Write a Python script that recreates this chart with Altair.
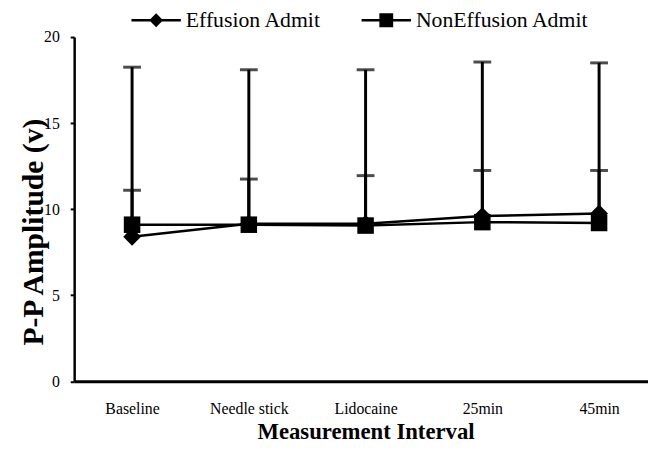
import altair as alt
import pandas as pd

categories = ["Baseline", "Needle stick", "Lidocaine", "25min", "45min"]
series_names = ["Effusion Admit", "NonEffusion Admit"]
eff_mean = [8.4, 9.15, 9.15, 9.6, 9.75]
eff_sd = [2.7, 2.6, 2.8, 2.65, 2.5]
non_mean = [9.1, 9.1, 9.05, 9.25, 9.2]
non_sd = [9.15, 9.0, 9.05, 9.3, 9.3]
y_ticks = [0, 5, 10, 15, 20]

rows = []
for name, means, sds in [(series_names[0], eff_mean, eff_sd), (series_names[1], non_mean, non_sd)]:
    for i, (c, m, s) in enumerate(zip(categories, means, sds)):
        rows.append({"idx": i, "cat": c, "series": name, "mean": m, "sd": s})
df = pd.DataFrame(rows)

FONT = "Liberation Serif"
label_expr = "[" + ",".join("'" + c + "'" for c in categories) + "][datum.value]"

x_enc = alt.X(
    "idx:Q",
    scale=alt.Scale(domain=[-0.496, 4.419], nice=False, zero=False),
    axis=alt.Axis(
        values=list(range(len(categories))),
        labelExpr=label_expr,
        title="Measurement Interval",
        ticks=False,
        grid=False,
        domainColor="black",
        domainWidth=3,
        labelFont=FONT,
        labelFontSize=16,
        labelFontWeight="normal",
        labelColor="black",
        labelPadding=20,
        titleFont=FONT,
        titleFontSize=23,
        titleFontWeight="bold",
        titleColor="black",
        titleBaseline="alphabetic",
        titleY=57.5,
        titleX=295,
    ),
)
y_enc = alt.Y(
    "mean:Q",
    scale=alt.Scale(domain=[0, 20], nice=False),
    axis=alt.Axis(
        values=y_ticks,
        title="P-P Amplitude (v)",
        grid=False,
        domainColor="black",
        domainWidth=2.5,
        tickColor="black",
        tickWidth=2,
        tickSize=4,
        labelFont=FONT,
        labelFontSize=16,
        labelFontWeight="normal",
        labelColor="black",
        labelPadding=11,
        titleFont=FONT,
        titleFontSize=30,
        titleFontWeight="bold",
        titleColor="black",
        titleBaseline="alphabetic",
        titleX=-32,
        titleY=197,
    ),
)

base = alt.Chart(df)

lines = base.mark_line(color="black", strokeWidth=2.5).encode(
    x=x_enc, y=y_enc, detail="series:N"
)

bars = base.transform_calculate(upper="datum.mean + datum.sd").mark_rule(
    color="black", strokeWidth=3
).encode(x="idx:Q", y="mean:Q", y2="upper:Q")

caps = base.transform_calculate(upper="datum.mean + datum.sd").mark_tick(
    color="black", size=18, thickness=3, orient="horizontal"
).encode(x="idx:Q", y="upper:Q")

diamonds = base.transform_filter(alt.datum.series == series_names[0]).mark_point(
    shape="diamond", filled=True, color="black", size=324, opacity=1
).encode(x="idx:Q", y="mean:Q")

squares = base.transform_filter(alt.datum.series == series_names[1]).mark_point(
    shape="square", filled=True, color="black", size=280, opacity=1
).encode(x="idx:Q", y="mean:Q")

# legend symbols: a thin filled bar (the line) plus the marker, all filled
path_d = "M-1,-0.05H1V0.05H-1ZM0,-0.28L0.28,0L0,0.28L-0.28,0Z"
path_s = "M-1,-0.05H1V0.05H-1ZM-0.28,-0.28H0.28V0.28H-0.28Z"

legend_layer = base.mark_point(filled=True, color="black", opacity=0).encode(
    x="idx:Q",
    y="mean:Q",
    shape=alt.Shape(
        "series:N",
        scale=alt.Scale(domain=series_names, range=[path_d, path_s]),
        legend=alt.Legend(
            title=None,
            orient="none",
            direction="horizontal",
            legendX=58,
            legendY=-42,
            padding=0,
            symbolSize=2500,
            symbolStrokeWidth=0,
            symbolFillColor="black",
            symbolOpacity=1,
            labelFont=FONT,
            labelFontSize=22,
            labelFontWeight="normal",
            labelColor="black",
            labelOffset=5,
            columnPadding=40,
            labelLimit=400,
        ),
    ),
)

chart = (
    alt.layer(lines, bars, caps, diamonds, squares, legend_layer)
    .properties(
        width=581,
        height=348.6,
        autosize=alt.AutoSizeParams(type="none"),
        padding={"left": 67, "top": 26.7, "right": 0, "bottom": 59.7},
        background="white",
    )
    .configure_view(stroke=None)
)

chart.save("out.html", embed_options={"renderer": "svg", "actions": False})
